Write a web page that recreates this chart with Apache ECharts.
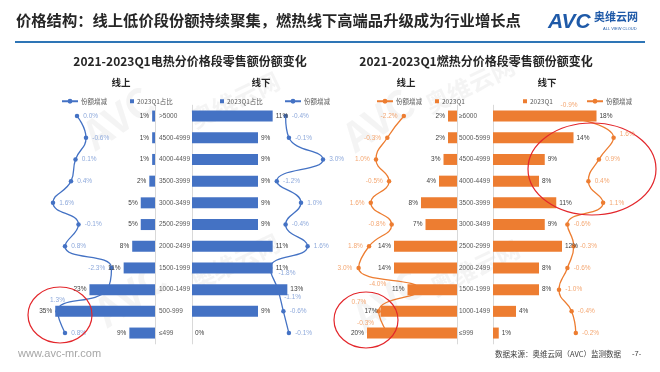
<!DOCTYPE html>
<html><head><meta charset="utf-8">
<script src="https://cdn.jsdelivr.net/npm/echarts@6/dist/echarts.min.js"></script>
<style>html,body{margin:0;padding:0;background:#fff}#c{width:660px;height:372px}</style>
</head><body><div id="c"></div>
<script>
// ---- data ----
const elecCats = ['>5000','4500-4999','4000-4499','3500-3999','3000-3499','2500-2999','2000-2499','1500-1999','1000-1499','500-999','≤499'];
const elecOnlineShare = [1,1,1,2,5,5,8,11,23,35,9];
const elecOnlineChange = [0.0,-0.6,0.1,0.4,1.6,-0.1,0.8,-2.3,-2.0,1.3,0.8];
const elecOfflineShare = [11,9,9,9,9,9,11,11,13,9,0];
const elecOfflineChange = [-0.4,-0.1,3.0,-1.2,1.0,-0.4,1.6,-1.8,-1.1,-0.6,-0.1];

const gasCats = ['≥6000','5000-5999','4500-4999','4000-4499','3500-3999','3000-3499','2500-2999','2000-2499','1500-1999','1000-1499','≤999'];
const gasOnlineShare = [2,2,3,4,8,7,14,14,11,17,20];
const gasOnlineChange = [-2.2,-0.3,1.0,-0.5,1.6,-0.8,1.8,3.0,-4.0,0.7,-0.3];
const gasOfflineShare = [18,14,9,8,11,9,12,8,8,4,1];
const gasOfflineChange = [-0.9,1.6,0.9,0.4,1.1,-0.6,-0.3,-0.6,-1.0,-0.4,-0.2];

const mainTitle = '价格结构：线上低价段份额持续聚集，燃热线下高端品升级成为行业增长点';
const leftTitle = '2021-2023Q1电热分价格段零售额份额变化';
const rightTitle = '2021-2023Q1燃热分价格段零售额份额变化';

// ---- layout ----
const FONT = '"Noto Sans CJK SC","Liberation Sans",sans-serif';
const BLUE = '#4472C4', ORANGE = '#ED7D31';
const TOP = 105.2, H = 238.7;

const grids = [
  {left:41, width:114, top:TOP, height:H},      // 0 elec online bars
  {left:17, width:135, top:TOP, height:H},      // 1 elec online line
  {left:192, width:110, top:TOP, height:H},     // 2 elec offline bars
  {left:257, width:77, top:TOP, height:H},      // 3 elec offline line
  {left:344.5, width:112.5, top:TOP, height:H}, // 4 gas online bars
  {left:349.9, width:78.3, top:TOP, height:H},  // 5 gas online line
  {left:493, width:115, top:TOP, height:H},     // 6 gas offline bars
  {left:538, width:84, top:TOP, height:H}       // 7 gas offline line
];
const xAxes = [
  {min:0,max:40,inverse:true},
  {min:-5,max:4,inverse:true},
  {min:0,max:15},
  {min:-3,max:4},
  {min:0,max:25,inverse:true},
  {min:-5,max:4,inverse:true},
  {min:0,max:20},
  {min:-2,max:2}
].map((a,i)=>Object.assign({type:'value',gridIndex:i,show:false},a));

function catAxis(i, cats, kind, margin){
  const base = {type:'category',gridIndex:i,data:cats,inverse:true,axisTick:{show:false}};
  if(kind==='onbar') return Object.assign(base,{position:'right',
      axisLine:{show:true,lineStyle:{color:'#D9D9D9',width:1}},
      axisLabel:{show:true,margin:margin,fontSize:6.5,color:'#595959',fontFamily:'"Liberation Sans",sans-serif'}});
  if(kind==='offbar') return Object.assign(base,{position:'left',
      axisLine:{show:true,lineStyle:{color:'#D9D9D9',width:1}},axisLabel:{show:false}});
  return Object.assign(base,{show:false});
}
const yAxes = [
  catAxis(0,elecCats,'onbar',4), catAxis(1,elecCats,'line'),
  catAxis(2,elecCats,'offbar'), catAxis(3,elecCats,'line'),
  catAxis(4,gasCats,'onbar',2), catAxis(5,gasCats,'line'),
  catAxis(6,gasCats,'offbar'), catAxis(7,gasCats,'line')
];

function barSeries(name, idx, data, color, pos){
  return {name:name,type:'bar',xAxisIndex:idx,yAxisIndex:idx,data:data,barWidth:11,z:3,
    itemStyle:{color:color},
    label:{show:true,position:pos,distance:3,formatter:'{c}%',fontSize:6.5,color:'#404040',fontFamily:'"Liberation Sans",sans-serif'}};
}
function lineSeries(name, idx, vals, color, labelColor, pos, overrides){
  const data = vals.map((v,i)=>overrides[i] ? {value:v,label:overrides[i]} : v);
  return {name:name,type:'line',xAxisIndex:idx,yAxisIndex:idx,data:data,smooth:0.5,z:2,
    symbol:'circle',symbolSize:4.5,clip:false,
    lineStyle:{color:color,width:1.3},itemStyle:{color:color},
    label:{show:true,position:pos,distance:4,fontSize:6.5,color:labelColor,fontFamily:'"Liberation Sans",sans-serif',
      formatter:p=>p.value.toFixed(1)+'%'}};
}

const series = [
  barSeries('2023Q1占比',0,elecOnlineShare,BLUE,'left'),
  lineSeries('份额增减',1,elecOnlineChange,BLUE,'#8EA9DB','right',
    {7:{position:'left'},8:{show:false},9:{position:'top',distance:5}}),
  barSeries('2023Q1占比 ',2,elecOfflineShare,BLUE,'right'),
  lineSeries('份额增减 ',3,elecOfflineChange,BLUE,'#8EA9DB','right',
    {7:{position:'right',offset:[2,5]},8:{position:'right',offset:[0,8]}}),
  barSeries('2023Q1',4,gasOnlineShare,ORANGE,'left'),
  lineSeries('份额增减  ',5,gasOnlineChange,ORANGE,'#F4A772','left',
    {8:{position:'left',offset:[-27,-5]},9:{position:'left',offset:[-6,-9]},10:{position:'left',offset:[-7,-10]}}),
  barSeries('2023Q1 ',6,gasOfflineShare,ORANGE,'right'),
  lineSeries('份额增减   ',7,gasOfflineChange,ORANGE,'#F4A772','right',
    {0:{position:'top',offset:[8,-1]},1:{position:'right',offset:[0,-4]}})
];

function legend(name, left, isBar){
  return {data:[name],left:left,top:93,itemGap:0,
    icon:isBar?'rect':undefined,itemWidth:isBar?4:16,itemHeight:isBar?4:6,
    textStyle:{fontSize:6.5,color:'#595959',fontFamily:FONT,padding:[0,0,0,-2]},selectedMode:false};
}
const legends = [
  legend('份额增减',56,false), legend('2023Q1占比',125,true),
  legend('2023Q1占比 ',215,true), legend('份额增减 ',279,false),
  legend('份额增减  ',371,false), legend('2023Q1',430,true),
  legend('2023Q1 ',518,true), legend('份额增减   ',581,false)
];

function ttl(text,left,top,size,align){
  return {text:text,left:left,top:top,textAlign:align||'left',padding:0,
    textStyle:{fontSize:size,fontWeight:'bold',color:'#262626',fontFamily:FONT}};
}
const titles = [
  ttl(mainTitle,16,13,15.3),
  ttl(leftTitle,190,55,12,'center'), ttl(rightTitle,476,55,12,'center'),
  ttl('线上',121,78,9.5,'center'), ttl('线下',261,78,9.5,'center'),
  ttl('线上',406,78,9.5,'center'), ttl('线下',547,78,9.5,'center')
];

function wm(x,y,text,size,rot,weight){
  return {type:'text',x:x,y:y,rotation:rot,z:0,silent:true,
    style:{text:text,fontSize:size,fontWeight:weight||'bold',fill:'rgba(190,190,190,0.17)',fontFamily:FONT,align:'center',verticalAlign:'middle'}};
}
function ell(cx,cy,rx,ry){
  return {type:'ellipse',z:100,shape:{cx:cx,cy:cy,rx:rx,ry:ry},style:{fill:'none',stroke:'#E3262B',lineWidth:1.2}};
}
const graphics = [
  {type:'line',shape:{x1:15,y1:42,x2:645,y2:42},style:{stroke:'#2E75B6',lineWidth:2}},
  {type:'text',x:548,y:22,style:{text:'AVC',fontSize:21,fontWeight:'bold',fontStyle:'italic',fill:'#1F5AA8',fontFamily:'"Liberation Sans",sans-serif',verticalAlign:'middle'}},
  {type:'text',x:594,y:17,style:{text:'奥维云网',fontSize:11,fontWeight:'bold',fill:'#1F5AA8',fontFamily:FONT,verticalAlign:'middle'}},
  {type:'text',x:603,y:29,style:{text:'ALL VIEW CLOUD',fontSize:4,fill:'#1F5AA8',fontFamily:'"Liberation Sans",sans-serif',verticalAlign:'middle'}},
  {type:'text',x:18,y:354,style:{text:'www.avc-mr.com',fontSize:11,fill:'#A6A6A6',fontFamily:'"Liberation Sans",sans-serif',verticalAlign:'middle'}},
  {type:'text',x:495,y:354,style:{text:'数据来源：奥维云网（AVC）监测数据',fontSize:7.5,fill:'#404040',fontFamily:FONT,verticalAlign:'middle'}},
  {type:'text',x:632,y:354,style:{text:'-7-',fontSize:7.5,fill:'#404040',fontFamily:'"Liberation Sans",sans-serif',verticalAlign:'middle'}},
  wm(118,118,'AVC',40,0.6), wm(235,100,'奥维云网',24,0.45),
  wm(130,295,'AVC',40,0.6), wm(235,262,'奥维云网',24,0.45),
  wm(378,120,'AVC',40,0.6), wm(470,85,'奥维云网',24,0.45),
  wm(388,300,'AVC',40,0.6), wm(475,268,'奥维云网',24,0.45),
  ell(60,315,32,28), ell(366,320,32,28), ell(592,169,64,46)
];

const chart = echarts.init(document.getElementById('c'),null,{renderer:'canvas'});
chart.setOption({
  animation:false,
  backgroundColor:'#fff',
  textStyle:{fontFamily:FONT},
  title:titles,
  legend:legends,
  grid:grids,
  xAxis:xAxes,
  yAxis:yAxes,
  series:series,
  graphic:graphics
});
</script></body></html>
